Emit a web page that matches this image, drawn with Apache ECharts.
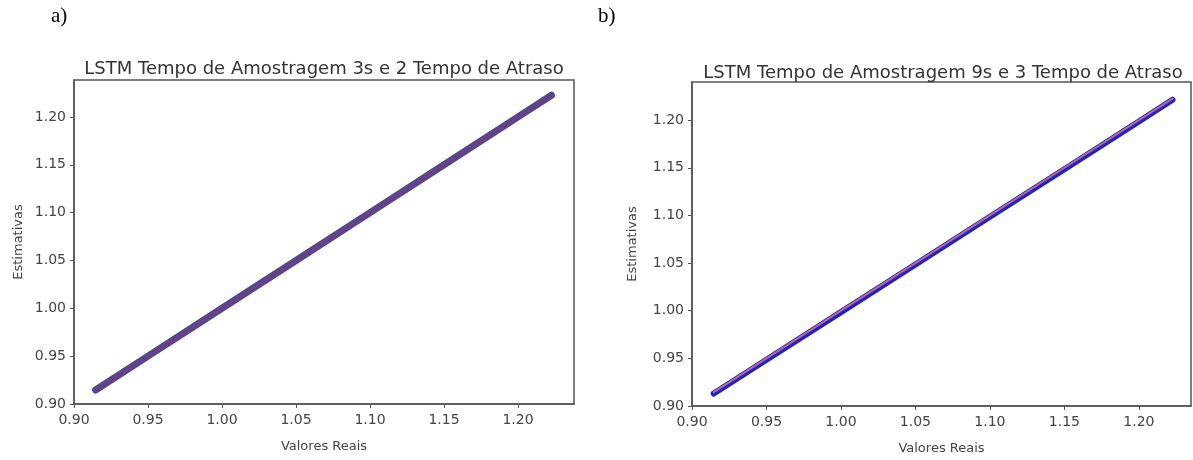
<!DOCTYPE html>
<html>
<head>
<meta charset="utf-8">
<script src="https://cdn.jsdelivr.net/npm/echarts@6/dist/echarts.min.js"></script>
<style>
  html, body { margin: 0; padding: 0; background: #fff; }
  #chart { width: 1193px; height: 460px; }
</style>
</head>
<body>
<div id="chart"></div>
<script>
// valores
const ticks = [0.90, 0.95, 1.00, 1.05, 1.10, 1.15, 1.20]
const realA = [0.9146, 0.95, 1.00, 1.05, 1.10, 1.15, 1.20, 1.2226]
const estA = [0.9146, 0.95, 1.00, 1.05, 1.10, 1.15, 1.20, 1.2226]
const realB = [0.9146, 0.95, 1.00, 1.05, 1.10, 1.15, 1.20, 1.2226]
const estB = [0.9131, 0.9485, 0.9985, 1.0485, 1.0985, 1.1485, 1.1985, 1.2214]
const titles = [
  'LSTM Tempo de Amostragem 3s e 2 Tempo de Atraso',
  'LSTM Tempo de Amostragem 9s e 3 Tempo de Atraso'
]

const chart = echarts.init(document.getElementById('chart'))
const font = 'DejaVu Sans'
const axisColor = '#555'

function pairs(xs, ys) {
  return xs.map((x, i) => [x, ys[i]])
}

function xAxis(idx, max) {
  return {
    type: 'value',
    gridIndex: idx,
    min: 0.9,
    max: max,
    name: 'Valores Reais',
    nameLocation: 'middle',
    nameGap: 36,
    nameTextStyle: { fontFamily: font, fontSize: 13, color: '#444' },
    splitLine: { show: false },
    axisLine: { show: true, lineStyle: { color: axisColor, width: 1.5 }},
    axisTick: { show: true, length: 4, lineStyle: { color: axisColor }, customValues: ticks },
    axisLabel: {
      customValues: ticks,
      margin: 9,
      fontFamily: font,
      fontSize: 14,
      color: '#444',
      formatter: (v) => v.toFixed(2)
    }
  }
}

function yAxis(idx, max, gap) {
  return {
    type: 'value',
    gridIndex: idx,
    min: 0.9,
    max: max,
    name: 'Estimativas',
    nameLocation: 'middle',
    nameGap: gap,
    nameTextStyle: { fontFamily: font, fontSize: 13, color: '#444' },
    splitLine: { show: false },
    axisLine: { show: true, lineStyle: { color: axisColor, width: 1.5 }},
    axisTick: { show: true, length: 4, lineStyle: { color: axisColor }, customValues: ticks },
    axisLabel: {
      customValues: ticks,
      margin: 8,
      fontFamily: font,
      fontSize: 14,
      color: '#444',
      formatter: (v) => v.toFixed(2)
    }
  }
}

function lineSeries(idx, data, color, width) {
  return {
    type: 'line',
    xAxisIndex: idx,
    yAxisIndex: idx,
    data: data,
    symbol: 'none',
    silent: true,
    lineStyle: { color: color, width: width, cap: 'round' }
  }
}

chart.setOption({
  animation: false,
  title: [
    {
      text: titles[0], left: 319, top: 55, textAlign: 'center',
      textStyle: { fontFamily: font, fontSize: 18, fontWeight: 'normal', color: '#333' }
    },
    {
      text: titles[1], left: 938, top: 59, textAlign: 'center',
      textStyle: { fontFamily: font, fontSize: 18, fontWeight: 'normal', color: '#333' }
    }
  ],
  graphic: [
    { type: 'text', left: 51, top: 6, style: { text: 'a)', font: '21px "Liberation Serif"', fill: '#000' }},
    { type: 'text', left: 598, top: 6, style: { text: 'b)', font: '21px "Liberation Serif"', fill: '#000' }}
  ],
  grid: [
    { left: 74, top: 80, width: 500, height: 324, show: true, borderColor: axisColor, borderWidth: 1.5 },
    { left: 692, top: 82, width: 499, height: 329, show: true, borderColor: axisColor, borderWidth: 1.5 }
  ],
  xAxis: [xAxis(0, 1.2378), xAxis(1, 1.235)],
  yAxis: [yAxis(0, 1.2386, 49), yAxis(1, 1.240, 53)],
  series: [
    lineSeries(0, pairs(realA, estA), '#54478f', 7),
    lineSeries(0, pairs(realA, realA), 'rgba(150,50,110,0.45)', 2),
    lineSeries(1, pairs(realB, estB), '#2121c4', 6),
    lineSeries(1, pairs(realB, realB), 'rgba(205,120,150,0.85)', 2)
  ]
})
</script>
</body>
</html>
